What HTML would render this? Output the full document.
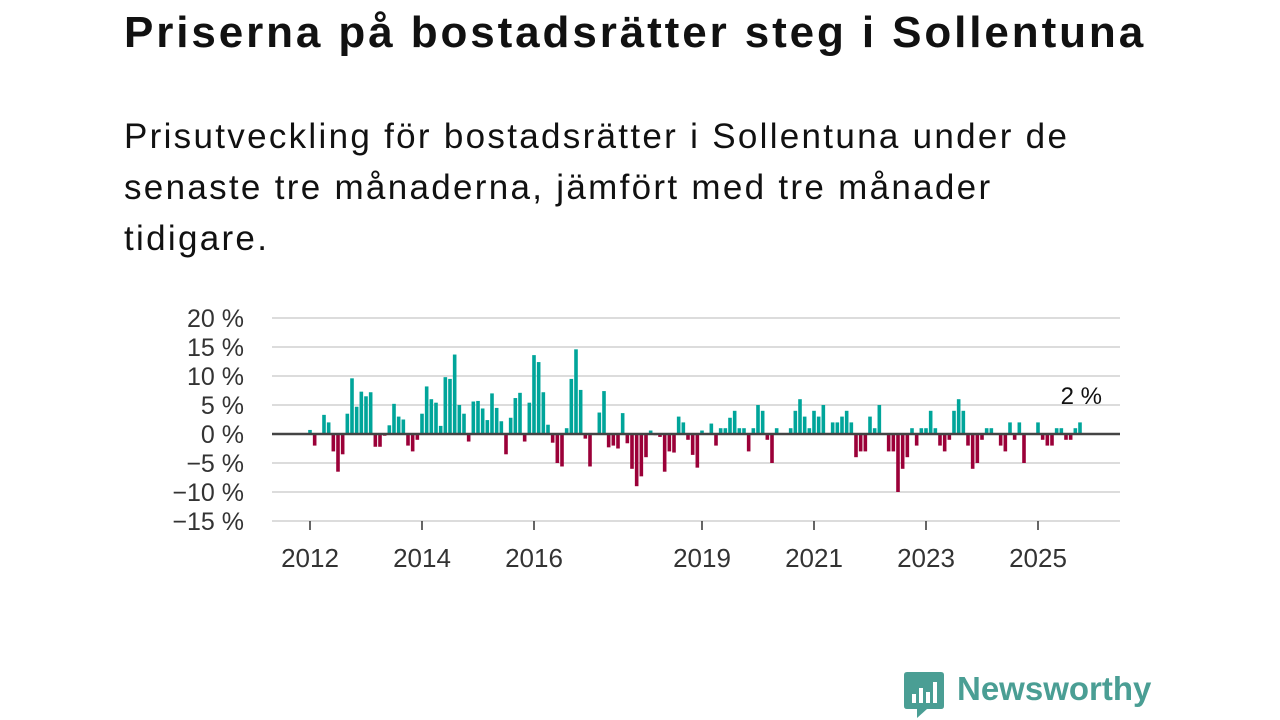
<!DOCTYPE html>
<html><head><meta charset="utf-8"><style>
body{margin:0;width:1280px;height:720px;background:#fff;font-family:"Liberation Sans",sans-serif;overflow:hidden;position:relative}
#title{position:absolute;left:124px;top:8px;font-size:44px;font-weight:bold;color:#111;margin:0;letter-spacing:2.9px;white-space:nowrap}
#sub{position:absolute;left:124px;top:111px;width:1100px;font-size:35px;line-height:51px;color:#111;letter-spacing:2.3px;white-space:nowrap}
svg{position:absolute;left:0;top:0}
</style></head><body>
<h1 id="title">Priserna på bostadsrätter steg i Sollentuna</h1>
<div id="sub">Prisutveckling för bostadsrätter i Sollentuna under de<br>senaste tre månaderna, jämfört med tre månader<br>tidigare.</div>
<svg id="chart" width="1280" height="720"></svg>
<script>
const values=[0.7,-2,0,3.3,2,-3,-6.5,-3.5,3.5,9.6,
4.7,7.3,6.5,7.2,-2.2,-2.2,-0.3,1.5,5.2,3,
2.5,-2,-3,-1,3.5,8.2,6,5.4,1.4,9.8,
9.5,13.7,5,3.5,-1.3,5.6,5.7,4.4,2.4,7,
4.5,2.2,-3.5,2.8,6.2,7.1,-1.3,5.4,13.6,
12.4,7.2,1.6,-1.5,-5,-5.6,1,9.5,14.6,7.6,
-0.8,-5.6,0,3.7,7.4,-2.3,-2,-2.5,3.6,-1.6,
-6,-9,-7.3,-4,0.6,-0.2,-0.5,-6.5,-3,-3.2,
3,2,-1,-3.6,-5.8,0.6,0,1.8,-2,1,
1,2.8,4,1,1,-3,1,5,4,-1,
-5,1,0,0,1,4,6,3,1,4,
3,5,-0.1,2,2,3,4,2,-4,-3,
-3,3,1,5,0,-3,-3,-10,-6,-4,
1,-2,1,1,4,1,-2,-3,-1,4,
6,4,-2,-6,-5,-1,1,1,0,-2,
-3,2,-1,2,-5,0,0,2,-1,-2,
-2,1,1,-1,-1,1,2];
const yTicks=[20,15,10,5,0,-5,-10,-15];
const yTickLabels=["20 %","15 %","10 %","5 %","0 %","−5 %","−10 %","−15 %"];
const xYears=[2012,2014,2016,2019,2021,2023,2025];
const startYear=2012;
const lastLabel="2 %";
const NS="http://www.w3.org/2000/svg";
const svg=document.getElementById('chart');
const y=v=>434-v*5.8;
const x=i=>310+i*(56/12);
function mk(t,a){const e=document.createElementNS(NS,t);for(const k in a)e.setAttribute(k,a[k]);svg.appendChild(e);return e;}
yTicks.forEach((t,i)=>{
 if(t!==0){const l=mk('line',{x1:272,x2:1120,y1:y(t),y2:y(t),stroke:'#dcdcdc','stroke-width':2});
 
 }
 const tx=mk('text',{x:244,y:y(t)+9,'text-anchor':'end','font-size':25,fill:'#333','font-family':'Liberation Sans, sans-serif'});
 tx.textContent=yTickLabels[i];
 
 
});
xYears.forEach(yr=>{
 const px=x((yr-startYear)*12);
 const l=mk('line',{x1:px,x2:px,y1:521,y2:530,stroke:'#333','stroke-width':1.5});
 
 
 const t=mk('text',{x:px,y:567,'text-anchor':'middle','font-size':26,fill:'#333','font-family':'Liberation Sans, sans-serif'});
 t.textContent=yr;
 
 
});
values.forEach((v,i)=>{
 const r=mk('rect',{x:x(i)-1.8,y:Math.min(y(v),434),width:3.6,height:Math.abs(y(v)-434),fill:v>=0?'#00a59a':'#9b0038'});
 
 
});
const z=mk('line',{x1:272,x2:1120,y1:434,y2:434,stroke:'#444','stroke-width':2.5});


const lb=mk('text',{x:x(values.length-1)+22,y:404,'text-anchor':'end','font-size':24,fill:'#111','font-family':'Liberation Sans, sans-serif'});
lb.textContent=lastLabel;


</script>
<div style="position:absolute;left:903px;top:670px;height:50px;">
<svg width="42" height="50" style="position:absolute;left:0;top:0">
<path d="M4 2 H38 Q41 2 41 5 V36 Q41 39 38 39 H24 L14 48 V39 H4 Q1 39 1 36 V5 Q1 2 4 2 Z" fill="#4a9e94"/>
<rect x="9" y="24" width="4" height="9" fill="#fff"/><rect x="16" y="18" width="4" height="15" fill="#fff"/><rect x="23" y="22" width="4" height="11" fill="#fff"/><rect x="30" y="12" width="4" height="21" fill="#fff"/>
</svg>
<div style="position:absolute;left:54px;top:0;font-size:33px;font-weight:bold;color:#4a9e94;white-space:nowrap">Newsworthy</div>
</div>
</body></html>
